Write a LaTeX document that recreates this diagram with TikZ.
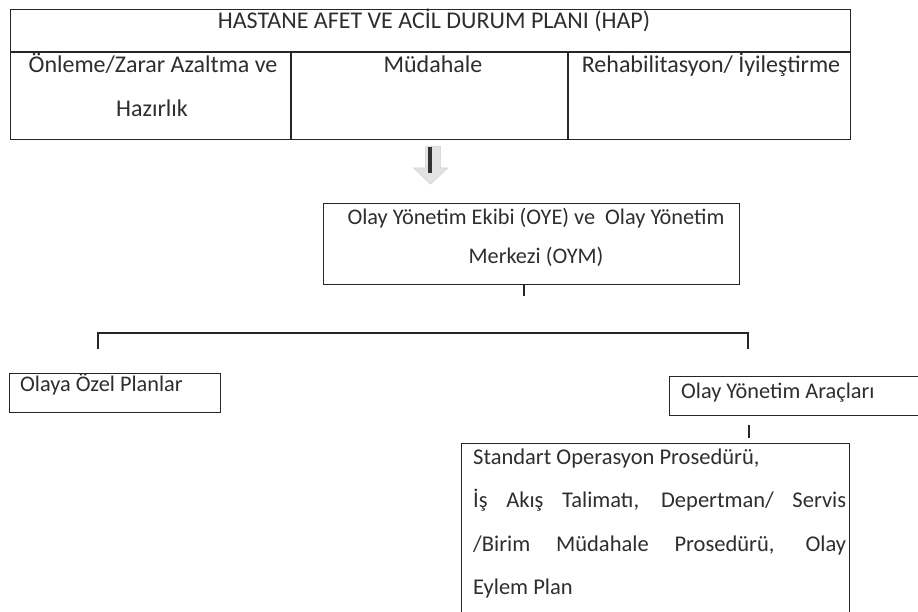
\documentclass[tikz,border=0pt]{standalone}
\usepackage{fontspec}
\setmainfont{Carlito}
\begin{document}
\begin{tikzpicture}[x=1pt,y=-1pt,
  frame/.style={draw=black!85, line width=1.3pt, inner sep=0pt, anchor=north west},
  txt/.style={text=black!82, inner sep=0pt},
  big/.style={font=\fontsize{24}{28}\selectfont},
  mid/.style={font=\fontsize{22.3}{26}\selectfont},
  body/.style={font=\fontsize{22.5}{26}\selectfont},
  link/.style={draw=black!85, line width=1.3pt}]
\useasboundingbox (0,0) rectangle (918,612);
\fill[white] (0,0) rectangle (918,612);

% plan table
\node[frame, minimum width=840pt, minimum height=130pt] (hap) at (10,9) {};
\draw[link] (10,52) -- (850,52);
\draw[link] (291,52) -- (291,139);
\draw[link] (568,52) -- (568,139);
\node[txt, big, anchor=base] (title) at (434,28.5) {HASTANE AFET VE ACİL DURUM PLANI (HAP)};
\node[txt, big, anchor=base] (c1a) at (153,73) {Önleme/Zarar Azaltma ve};
\node[txt, big, anchor=base] (c1b) at (152,117) {Hazırlık};
\node[txt, big, anchor=base] (c2) at (433,73) {Müdahale};
\node[txt, big, anchor=base] (c3) at (711,73) {Rehabilitasyon/ İyileştirme};

% incident management team and centre
\node[frame, minimum width=416pt, minimum height=81pt] (oye) at (323,203) {};
\node[txt, mid, anchor=base] (oyeA) at (536,225) {Olay Yönetim Ekibi (OYE) ve\ \ Olay Yönetim};
\node[txt, mid, anchor=base] (oyeB) at (536,264) {Merkezi (OYM)};

% down arrow between the table and the team box
\coordinate (arrTop) at ([yshift=-6pt]hap.south);
\coordinate (arrTip) at ([yshift=19pt]oye.north -| arrTop);
\fill[gray!22, draw=gray!35, line width=0.6pt]
  ([xshift=-5pt]arrTop) -- ([xshift=10pt]arrTop) -- ([xshift=10pt]arrTop |- 0,168)
  -- ([xshift=17pt]arrTop |- 0,168) -- (arrTip) -- ([xshift=-17pt]arrTop |- 0,168)
  -- ([xshift=-5pt]arrTop |- 0,168) -- cycle;
\draw[black!80, line width=4pt] ([xshift=-1pt,yshift=-1pt]arrTop) -- ([xshift=-1pt]arrTop |- 0,173);

% branch bracket
\coordinate (oyeTick) at (524,296);
\coordinate (brL) at (98,333);
\coordinate (brR) at (748,333);
\draw[link] (oye.south -| oyeTick) -- (oyeTick);
\draw[link] ([yshift=-16pt]brL) -- (brL) -- (brR) -- ([yshift=-16pt]brR);

% event-specific plans
\node[frame, minimum width=211pt, minimum height=39pt] (ozel) at (9,373) {};
\node[txt, mid, anchor=base west] (ozelT) at (20,391) {Olaya Özel Planlar};

% incident management tools
\node[frame, minimum width=262pt, minimum height=39pt] (arac) at (669,376) {};
\node[txt, mid, anchor=base west] (aracT) at (681,398) {Olay Yönetim Araçları};

% procedures box
\node[frame, minimum width=388pt, minimum height=190pt] (sop) at (461,443) {};
\coordinate (aracTick) at (749,425);
\draw[link] (aracTick) -- ([yshift=5pt]sop.north -| aracTick);
\node[txt, body, anchor=base west] (sop1) at (473,464) {Standart Operasyon Prosedürü,};
\node[txt, body, anchor=base west] (sop2) at (473,507) {\makebox[373pt][s]{İş Akış Talimatı, Depertman/ Servis}};
\node[txt, body, anchor=base west] (sop3) at (473,551) {\makebox[373pt][s]{/Birim Müdahale Prosedürü, Olay}};
\node[txt, body, anchor=base west] (sop4) at (473,594) {Eylem Plan};
\end{tikzpicture}
\end{document}
